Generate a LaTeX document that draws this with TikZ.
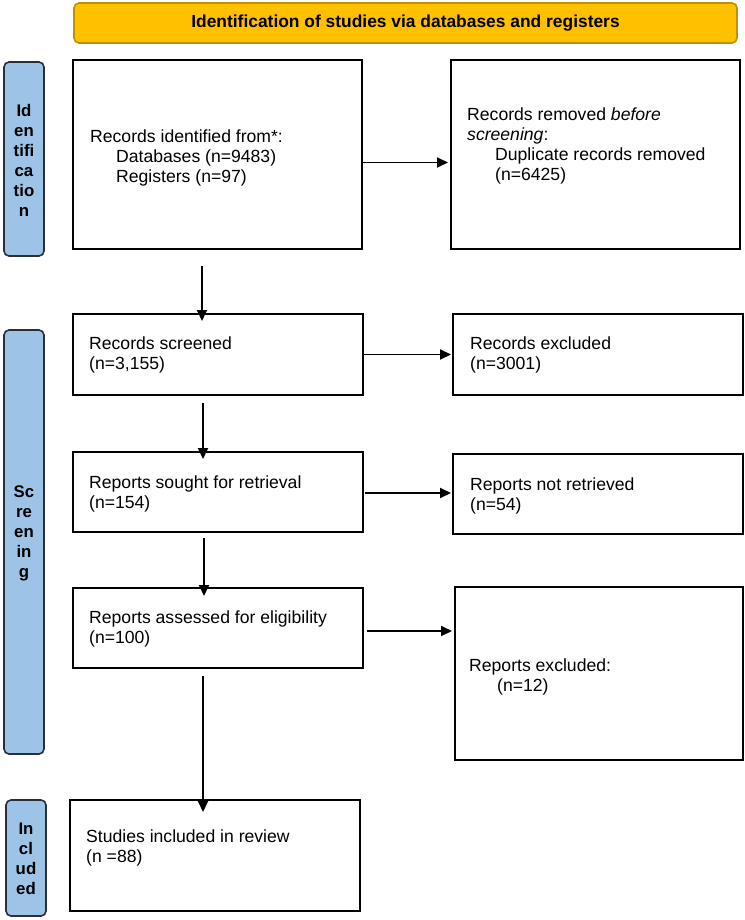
\documentclass[tikz,border=0pt]{standalone}
\usepackage{fontspec}
\setmainfont{Liberation Sans}
\usetikzlibrary{arrows.meta,calc}
\definecolor{titlefill}{HTML}{FFC000}
\definecolor{titledraw}{HTML}{BF9000}
\definecolor{sidefill}{HTML}{9DC3E6}
\definecolor{sidedraw}{HTML}{27303C}
\begin{document}
\begin{tikzpicture}[x=1pt,y=-1pt,
  box/.style={draw=black, line width=1.8pt, fill=white, inner sep=0pt, outer sep=0pt},
  side/.style={draw=sidedraw, fill=sidefill, line width=1.6pt, rounded corners=5pt, inner sep=0pt, outer sep=0pt},
  titlebox/.style={draw=titledraw, fill=titlefill, line width=1.6pt, rounded corners=5pt, inner sep=0pt, outer sep=0pt,
    font=\fontsize{17.4}{20}\selectfont\bfseries},
  sidetext/.style={font=\fontsize{16.8}{20}\selectfont\bfseries, align=center, inner sep=0pt},
  txt/.style={font=\fontsize{17.6}{20}\selectfont, align=left, anchor=west, inner sep=0pt},
  arr/.style={line width=1.9pt, -{Triangle[length=11pt,width=10pt]}},
]
\useasboundingbox (0,0) rectangle (744,920);
\fill[white] (0,0) rectangle (744,920);

% title
\node[titlebox, minimum width=663pt, minimum height=40pt] (title) at (405.5,23) {Identification of studies via databases and registers};

% side labels
\node[side, minimum width=40pt, minimum height=194pt] (idside) at (24,159) {};
\node[side, minimum width=40pt, minimum height=424pt] (scrside) at (24,542) {};
\node[side, minimum width=40pt, minimum height=116pt] (incside) at (26,858) {};
\node[sidetext] (idtext) at (24,160.5) {Id\\en\\tifi\\ca\\tio\\n};
\node[sidetext] (scrtext) at (24,533) {Sc\\re\\en\\in\\g};
\node[sidetext] (inctext) at (26,859) {In\\cl\\ud\\ed};

% boxes
\node[box, minimum width=289pt, minimum height=189pt] (b1) at (217.5,154.5) {};
\node[box, minimum width=289pt, minimum height=189pt] (b2) at (595.5,154.5) {};
\node[box, minimum width=290pt, minimum height=81pt] (scr) at (218,354.5) {};
\node[box, minimum width=290pt, minimum height=81pt] (excl) at (598,354.5) {};
\node[box, minimum width=290pt, minimum height=80pt] (sought) at (218,492) {};
\node[box, minimum width=290pt, minimum height=80pt] (notret) at (598,494) {};
\node[box, minimum width=290pt, minimum height=80pt] (assessed) at (218,628) {};
\node[box, minimum width=288pt, minimum height=173pt] (repexcl) at (599,673.5) {};
\node[box, minimum width=290pt, minimum height=111pt] (included) at (215,855.5) {};

% texts
\node[txt] (b1t) at ($(b1.west)+(17,3.5)$) {Records identified from*:\\\hspace*{26pt}Databases (n=9483)\\\hspace*{26pt}Registers (n=97)};
\node[txt] (b2t) at ($(b2.west)+(16,-9)$) {Records removed \textit{before}\\\textit{screening}:\\\hspace*{28pt}Duplicate records removed\\\hspace*{28pt}(n=6425)};
\node[txt] (scrt) at ($(scr.west)+(16,0.5)$) {Records screened\\(n=3,155)};
\node[txt] (exclt) at ($(excl.west)+(17,0.5)$) {Records excluded\\(n=3001)};
\node[txt] (soughtt) at ($(sought.west)+(16,1.5)$) {Reports sought for retrieval\\(n=154)};
\node[txt] (notrett) at ($(notret.west)+(17,2)$) {Reports not retrieved\\(n=54)};
\node[txt] (assessedt) at ($(assessed.west)+(16,1)$) {Reports assessed for eligibility\\(n=100)};
\node[txt] (repexclt) at ($(repexcl.west)+(14,3)$) {Reports excluded:\\\hspace*{28pt}(n=12)};
\node[txt] (includedt) at ($(included.west)+(16,-8)$) {Studies included in review\\(n =88)};

% horizontal arrows
\draw[arr] ($(b1.east)+(0,8)$) -- ($(b2.west)+(-3,8)$);
\draw[arr] (scr.east) -- ($(excl.west)+(-2,0)$);
\draw[arr] ($(sought.east)+(2,1)$) -- ($(notret.west)+(-2,-1)$);
\draw[arr] ($(assessed.east)+(4,3)$) -- ($(repexcl.west |- assessed.east)+(-3,3)$);

% vertical arrows
\draw[arr] ($(b1.south)+(-15.5,17)$) -- ($(scr.north)+(-16,7)$);
\draw[arr] ($(scr.south)+(-15,8)$) -- ($(sought.north)+(-15,7)$);
\draw[arr] ($(sought.south)+(-14,6)$) -- ($(assessed.north)+(-14,8)$);
\draw[arr] ($(assessed.south)+(-15,8)$) -- ($(included.north)+(-12,12)$);
\end{tikzpicture}
\end{document}
